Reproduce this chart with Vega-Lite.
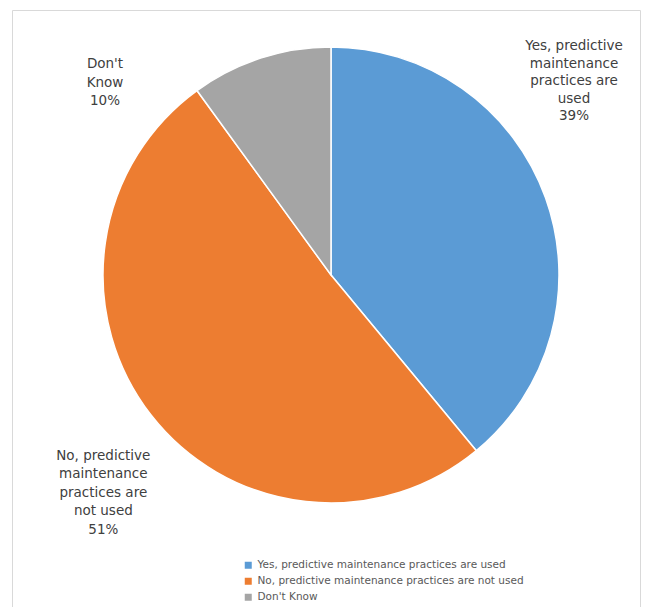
{
  "$schema": "https://vega.github.io/schema/vega-lite/v6.json",
  "autosize": "none",
  "padding": {"left": 12, "top": 10, "right": 6, "bottom": 0},
  "width": 628,
  "height": 597,
  "background": "white",
  "view": {"stroke": "#D9D9D9", "strokeWidth": 1},
  "data": {
    "values": [
      {"category": "Yes, predictive maintenance practices are used", "value": 39, "order": 1, "label": "Yes, predictive\nmaintenance\npractices are\nused\n39%"},
      {"category": "No, predictive maintenance practices are not used", "value": 51, "order": 2, "label": "No, predictive\nmaintenance\npractices are\nnot used\n51%"},
      {"category": "Don't Know", "value": 10, "order": 3, "label": "Don't\nKnow\n10%"}
    ]
  },
  "transform": [
    {"stack": "value", "groupby": [], "sort": [{"field": "order", "order": "ascending"}], "as": ["s0", "s1"]}
  ],
  "layer": [
    {
      "mark": {"type": "arc", "outerRadius": 228, "stroke": "white", "strokeWidth": 1.5, "xOffset": 5, "yOffset": -33.5},
      "encoding": {
        "theta": {"field": "s0", "type": "quantitative", "scale": {"domain": [0, 100]}},
        "theta2": {"field": "s1"},
        "color": {
          "field": "category",
          "type": "nominal",
          "scale": {
            "domain": ["Yes, predictive maintenance practices are used", "No, predictive maintenance practices are not used", "Don't Know"],
            "range": ["#5B9BD5", "#ED7D31", "#A5A5A5"]
          },
          "legend": {
            "title": null,
            "orient": "none",
            "legendX": 231,
            "legendY": 550,
            "direction": "vertical",
            "symbolType": "square",
            "symbolSize": 49,
            "symbolStrokeWidth": 0,
            "labelFont": "DejaVu Sans",
            "labelFontSize": 10.5,
            "labelColor": "#595959",
            "labelLimit": 400,
            "rowPadding": 5,
            "padding": 0
          }
        }
      }
    },
    {
      "transform": [{"filter": "datum.order == 1"}],
      "mark": {"type": "text", "radius": 228, "xOffset": 5, "yOffset": -33.5, "dx": 243, "dy": -8, "align": "center", "baseline": "top", "lineBreak": "\n", "lineHeight": 17.5, "font": "DejaVu Sans", "fontSize": 13.5, "color": "#404040"},
      "encoding": {
        "theta": {"field": "s0", "type": "quantitative", "stack": null, "scale": {"domain": [0, 100]}},
        "text": {"field": "label"}
      }
    },
    {
      "transform": [{"filter": "datum.order == 2"}],
      "mark": {"type": "text", "radius": 228, "xOffset": 5, "yOffset": -33.5, "dx": -373, "dy": -2, "align": "center", "baseline": "top", "lineBreak": "\n", "lineHeight": 18.5, "font": "DejaVu Sans", "fontSize": 13.5, "color": "#404040"},
      "encoding": {
        "theta": {"field": "s0", "type": "quantitative", "stack": null, "scale": {"domain": [0, 100]}},
        "text": {"field": "label"}
      }
    },
    {
      "transform": [{"filter": "datum.order == 3"}],
      "mark": {"type": "text", "radius": 228, "xOffset": 5, "yOffset": -33.5, "dx": -92, "dy": -33.5, "align": "center", "baseline": "top", "lineBreak": "\n", "lineHeight": 18.5, "font": "DejaVu Sans", "fontSize": 13.5, "color": "#404040"},
      "encoding": {
        "theta": {"field": "s0", "type": "quantitative", "stack": null, "scale": {"domain": [0, 100]}},
        "text": {"field": "label"}
      }
    }
  ]
}
